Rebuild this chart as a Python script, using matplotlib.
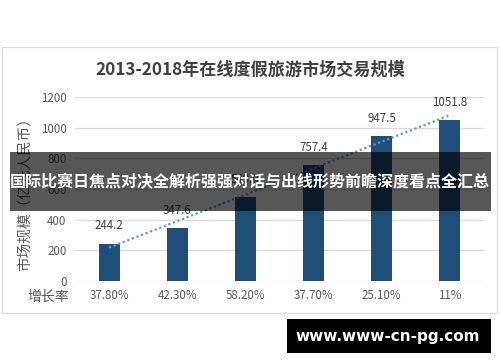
import matplotlib

matplotlib.use("Agg")
import matplotlib.pyplot as plt
import numpy as np
from matplotlib.patches import Rectangle

plt.rcParams["font.family"] = ["Noto Sans CJK SC", "DejaVu Sans"]

YEARS = ["2013", "2014", "2015", "2016", "2017", "2018"]
MARKET_SIZE = [244.2, 347.6, 549.0, 757.4, 947.5, 1051.8]
GROWTH_LABELS = ["37.80%", "42.30%", "58.20%", "37.70%", "25.10%", "11%"]
Y_TICKS = [0, 200, 400, 600, 800, 1000, 1200]

TITLE = "2013-2018年在线度假旅游市场交易规模"
Y_LABEL = "市场规模（亿元人民币）"
GROWTH_TITLE = "增长率"
BANNER = "国际比赛日焦点对决全解析强强对话与出线形势前瞻深度看点全汇总"
WATERMARK = "www.www-cn-pg.com"

BAR_COLOR = "#1F4E79"
TREND_COLOR = "#5B9BD5"
TEXT_COLOR = "#595959"


def main():
    fig = plt.figure(figsize=(5.0, 3.62), dpi=100)
    fig.patch.set_facecolor("white")

    # chart frame
    fig.patches.append(Rectangle((0.004, 1 - 313 / 362), 0.99, (313 - 47) / 362,
                                 transform=fig.transFigure, facecolor="none",
                                 edgecolor="#D9D9D9", linewidth=0.8, zorder=-1))

    ax = fig.add_axes([0.15, 1 - 281 / 362, 0.818, (281 - 97) / 362])
    x = np.arange(len(YEARS))
    bars = ax.bar(x, MARKET_SIZE, width=0.31, color=BAR_COLOR, zorder=3)

    for bar, value in zip(bars, MARKET_SIZE):
        ax.annotate(f"{value:.1f}", xy=(bar.get_x() + bar.get_width() / 2, value),
                    xytext=(0, 8), textcoords="offset points", ha="center",
                    va="bottom", fontsize=8.3, color="#404040", zorder=4)

    slope, intercept = np.polyfit(x, MARKET_SIZE, 1)
    ax.plot(x, slope * x + intercept, linestyle=(0, (1, 1.2)), color=TREND_COLOR,
            linewidth=1.6, zorder=4)

    ax.set_xlim(-0.5, len(YEARS) - 0.5)
    ax.set_ylim(0, 1200)
    ax.set_yticks(Y_TICKS)
    ax.set_yticklabels([str(v) for v in Y_TICKS], fontsize=8.3, color=TEXT_COLOR)
    ax.set_xticks([])
    ax.tick_params(axis="y", length=0, pad=6)
    ax.grid(axis="y", color="#D9D9D9", linewidth=0.9, zorder=0)
    for spine in ax.spines.values():
        spine.set_visible(False)
    ax.set_facecolor("none")

    for xi, label in zip(x, GROWTH_LABELS):
        ax.text(xi, -0.045, label, transform=ax.get_xaxis_transform(), ha="center",
                va="top", fontsize=8.3, color=TEXT_COLOR)
    fig.text(48 / 500, 1 - 297 / 362, GROWTH_TITLE, ha="center", va="center",
             fontsize=10, color=TEXT_COLOR)
    fig.text(25 / 500, 1 - 191 / 362, Y_LABEL, rotation=90, ha="center",
             va="center", fontsize=10.5, color=TEXT_COLOR)

    fig.text(0.5, 1 - 70 / 362, TITLE, ha="center", va="center", fontsize=12.3,
             fontweight="bold", color="#404040")

    # overlay banner
    fig.patches.append(Rectangle((10 / 500, 1 - 211 / 362), 481 / 500, 59 / 362,
                                 transform=fig.transFigure, facecolor="black",
                                 alpha=0.66, edgecolor="none", zorder=10))
    fig.text(250 / 500, 1 - 182 / 362, BANNER, ha="center", va="center",
             fontsize=11.5, fontweight="bold", color="white", zorder=11)

    # watermark box
    fig.patches.append(Rectangle((287 / 500, 1 - 353 / 362), 204 / 500, 34 / 362,
                                 transform=fig.transFigure, facecolor="black",
                                 edgecolor="none", zorder=10))
    fig.text(388 / 500, 1 - 337 / 362, WATERMARK, ha="center", va="center",
             fontsize=11, fontweight="bold", color="white", zorder=11,
             family="DejaVu Sans")

    fig.savefig("out.png", dpi=100)
    plt.close(fig)


if __name__ == "__main__":
    main()
